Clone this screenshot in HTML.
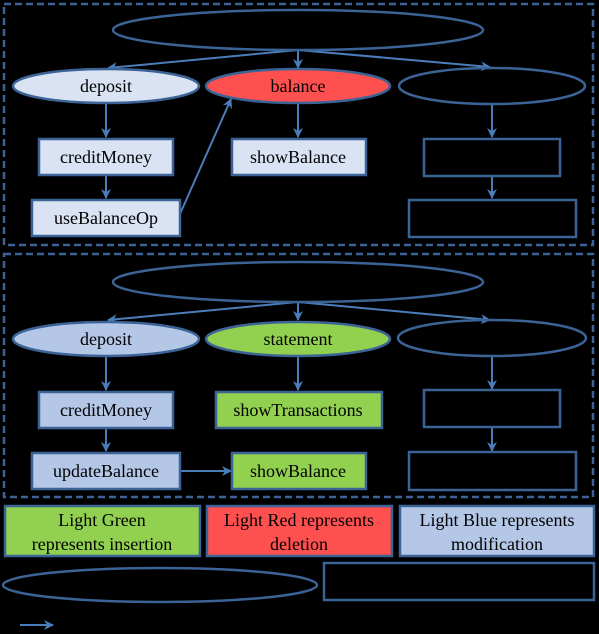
<!DOCTYPE html>
<html><head><style>
html,body{margin:0;padding:0;background:#000;}
svg{display:block;}
text{font-family:"Liberation Serif",serif;font-size:18px;fill:#000;text-anchor:middle;}
</style></head><body>
<svg width="599" height="634" viewBox="0 0 599 634" xmlns="http://www.w3.org/2000/svg">
<defs>
<marker id="a" markerWidth="10" markerHeight="10" refX="9" refY="5" orient="auto" markerUnits="userSpaceOnUse">
<path d="M0,0 L10,5 L0,10 L3,5 z" fill="#4a7ebb"/></marker>
</defs>
<g stroke="#3c6396" stroke-width="2.5" fill="none">
<rect x="4" y="4" width="589" height="241" stroke-dasharray="7,4"/>
<rect x="4" y="254" width="589" height="243" stroke-dasharray="7,4"/>
</g>
<g stroke="#4a7ebb" stroke-width="2" fill="none" marker-end="url(#a)">
<path d="M298,50 L108,68"/><path d="M298,50 L298,68"/><path d="M298,50 L490,67"/>
<path d="M106,104 L106,137"/><path d="M106,175 L106,198"/>
<path d="M180,214 L231,99"/>
<path d="M298,104 L298,137"/>
<path d="M492,104 L492,137"/><path d="M492,175 L492,198"/>
<path d="M298,302 L108,320"/><path d="M298,302 L298,320"/><path d="M298,302 L490,320"/>
<path d="M106,357 L106,390"/><path d="M106,428 L106,451"/>
<path d="M298,357 L298,390"/>
<path d="M180,471 L231,471"/>
<path d="M492,357 L492,389"/><path d="M492,427 L492,451"/>
<path d="M20,625 L53,625"/>
</g>
<g stroke="#3c6396" stroke-width="2.5">
<ellipse cx="298" cy="30" rx="185" ry="20" fill="none"/>
<ellipse cx="106" cy="86" rx="93" ry="17" fill="#dae3f3"/>
<ellipse cx="298" cy="86" rx="92" ry="17" fill="#ff5050"/>
<ellipse cx="492" cy="86" rx="93" ry="18" fill="none"/>
<rect x="39" y="139" width="134" height="36" fill="#dae3f3"/>
<rect x="32" y="200" width="148" height="36" fill="#dae3f3"/>
<rect x="232" y="139" width="134" height="36" fill="#dae3f3"/>
<rect x="424" y="139" width="136" height="37" fill="none"/>
<rect x="409" y="200" width="167" height="37" fill="none"/>

<ellipse cx="298" cy="282" rx="185" ry="20" fill="none"/>
<ellipse cx="106" cy="339" rx="93" ry="17" fill="#b4c7e7"/>
<ellipse cx="298" cy="339" rx="92" ry="17" fill="#92d050"/>
<ellipse cx="492" cy="338" rx="94" ry="18" fill="none"/>
<rect x="39" y="392" width="134" height="36" fill="#b4c7e7"/>
<rect x="32" y="453" width="148" height="36" fill="#b4c7e7"/>
<rect x="216" y="392" width="166" height="36" fill="#92d050"/>
<rect x="232" y="453" width="134" height="36" fill="#92d050"/>
<rect x="424" y="390" width="136" height="37" fill="none"/>
<rect x="409" y="452" width="167" height="38" fill="none"/>

<rect x="5" y="506" width="195" height="50" fill="#92d050"/>
<rect x="207" y="506" width="185" height="50" fill="#ff5050"/>
<rect x="400" y="506" width="194" height="50" fill="#b4c7e7"/>
<ellipse cx="160" cy="585" rx="157" ry="17" fill="none"/>
<rect x="324" y="563" width="270" height="37" fill="none"/>
</g>
<text x="106" y="92">deposit</text>
<text x="298" y="92">balance</text>
<text x="106" y="163">creditMoney</text>
<text x="106" y="224">useBalanceOp</text>
<text x="298" y="163">showBalance</text>
<text x="106" y="345">deposit</text>
<text x="298" y="345">statement</text>
<text x="106" y="416">creditMoney</text>
<text x="106" y="477">updateBalance</text>
<text x="298" y="416">showTransactions</text>
<text x="298" y="477">showBalance</text>
<text x="102" y="526">Light Green</text>
<text x="102" y="550">represents insertion</text>
<text x="299" y="526">Light Red represents</text>
<text x="299" y="550">deletion</text>
<text x="497" y="526">Light Blue represents</text>
<text x="497" y="550">modification</text>
</svg>
</body></html>
